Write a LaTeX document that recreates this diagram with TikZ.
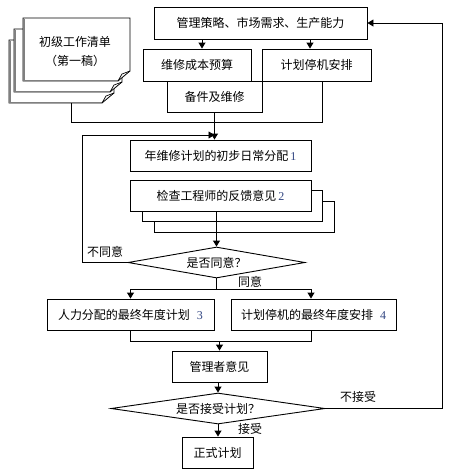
\documentclass[tikz,border=0pt]{standalone}
\usepackage{fontspec}
\setmainfont{Liberation Serif}
\newfontfamily\cjk{Noto Sans CJK SC}
\usetikzlibrary{shapes.geometric,arrows.meta}
\definecolor{numc}{RGB}{50,70,130}
\definecolor{pagegray}{RGB}{128,128,128}
\newcommand{\nm}[1]{{\color{numc}\rmfamily #1}}
\begin{document}
\begin{tikzpicture}[x=1pt,y=-1pt,
  txt/.style={font=\cjk\fontsize{12}{14}\selectfont},
  box/.style={txt,draw,line width=0.9pt,fill=white,inner sep=0pt},
  dia/.style={txt,draw,diamond,line width=0.9pt,inner sep=0pt,fill=white},
  arr/.style={-{Triangle[length=6pt,width=7pt]},line width=0.9pt},
  ln/.style={line width=0.9pt},
  lbl/.style={txt,inner sep=0pt},
  pg/.style={draw,line width=0.8pt,fill=white},
  pgs/.style={draw=pagegray,line width=1.5pt}
]
\useasboundingbox (0,0) rectangle (452,475);

% stacked document pages
\foreach \L/\T/\R/\B in {9/40/114/103, 14/29/122/92, 23/18/130/81}{
  \draw[pg] (\L,\T) -- (\R,\T) -- (\R,\B-10) -- (\R-12,\B) -- (\L,\B) -- cycle;
  \draw[pgs] (\L+1.2,\T+1) -- (\L+1.2,\B-0.5) -- (\R-12,\B-0.5);
  \draw[line width=0.7pt] (\R,\B-10) -- (\R-8,\B-7) -- (\R-12,\B);
}
\node[txt,align=center,inner sep=0pt] (doc) at (75,52) {初级工作清单\\[5pt]（第一稿）};
\coordinate (docb) at (71,103);

% boxes
\node[box,minimum width=213pt,minimum height=32pt] (top) at (260.5,23) {管理策略、市场需求、生产能力};
\node[box,minimum width=95pt,minimum height=31pt] (parts) at (214.5,96.5) {备件及维修};
\node[box,minimum width=108pt,minimum height=32pt] (cost) at (197,65) {维修成本预算};
\node[box,minimum width=109pt,minimum height=32pt] (stop) at (316.5,65) {计划停机安排};
\node[box,minimum width=181pt,minimum height=31pt] (b1) at (220.5,155.5) {年维修计划的初步日常分配\,\nm{1}};
\node[box,minimum width=180pt,minimum height=31pt] (sh2) at (244,216.5) {};
\node[box,minimum width=180pt,minimum height=31pt] (sh1) at (232,205.5) {};
\node[box,minimum width=181pt,minimum height=31pt] (b2) at (220.5,195.5) {检查工程师的反馈意见\,\nm{2}};
\node[dia,minimum width=177pt,minimum height=31pt,aspect=5.7] (d1) at (216.5,262.5) {是否同意？};
\node[box,minimum width=167pt,minimum height=31pt] (b3) at (130.5,314.5) {人力分配的最终年度计划\hspace{7pt}\nm{3}};
\node[box,minimum width=165pt,minimum height=31pt] (b4) at (313.5,314.5) {计划停机的最终年度安排\hspace{7pt}\nm{4}};
\node[box,minimum width=95pt,minimum height=31pt] (b5) at (219.5,366.5) {管理者意见};
\node[dia,minimum width=214pt,minimum height=31pt,aspect=6.9] (d2) at (218,408.5) {是否接受计划？};
\node[box,minimum width=71pt,minimum height=31pt] (b6) at (217.5,452.5) {正式计划};

% labels
\node[lbl] (l1) at (105,252) {不同意};
\node[lbl] (l2) at (250,282) {同意};
\node[lbl] (l3) at (358,397) {不接受};
\node[lbl] (l4) at (250,429) {接受};

% helper coordinates
\coordinate (a1) at (202,0);
\coordinate (a2) at (310,0);
\coordinate (sx) at (322,0);
\coordinate (j1) at (0,122);
\coordinate (lp) at (82,135);
\coordinate (sp) at (0,289);
\coordinate (x311) at (311,0);
\coordinate (mg) at (0,341);
\coordinate (rt) at (442,0);

% connectors
\draw[arr] (top.south -| a1) -- (cost.north -| a1);
\draw[arr] (top.south -| a2) -- (stop.north -| a2);
\draw[ln] (docb) -- (docb |- j1) -- (sx |- j1) -- (stop.south -| sx);
\draw[arr] (parts.south) -- (b1.north -| parts.south);
\draw[arr] (d1.west) -| (lp) -- (lp -| parts.south);
\draw[arr] (d1.north |- b2.south) -- (d1.north);
\draw[ln] (d1.south) -- (d1.south |- sp);
\draw[arr] (d1.south |- sp) -| (b3.north);
\draw[arr] (d1.south |- sp) -| (b4.north -| x311);
\draw[ln] (b3.south) |- (x311 |- mg) -- (b4.south -| x311);
\draw[arr] (b5.north |- mg) -- (b5.north);
\draw[arr] (d2.north |- b5.south) -- (d2.north);
\draw[arr] (d2.south) -- (b6.north -| d2.south);
\draw[arr] (d2.east) -| (rt |- top.east) -- (top.east);
\end{tikzpicture}
\end{document}
